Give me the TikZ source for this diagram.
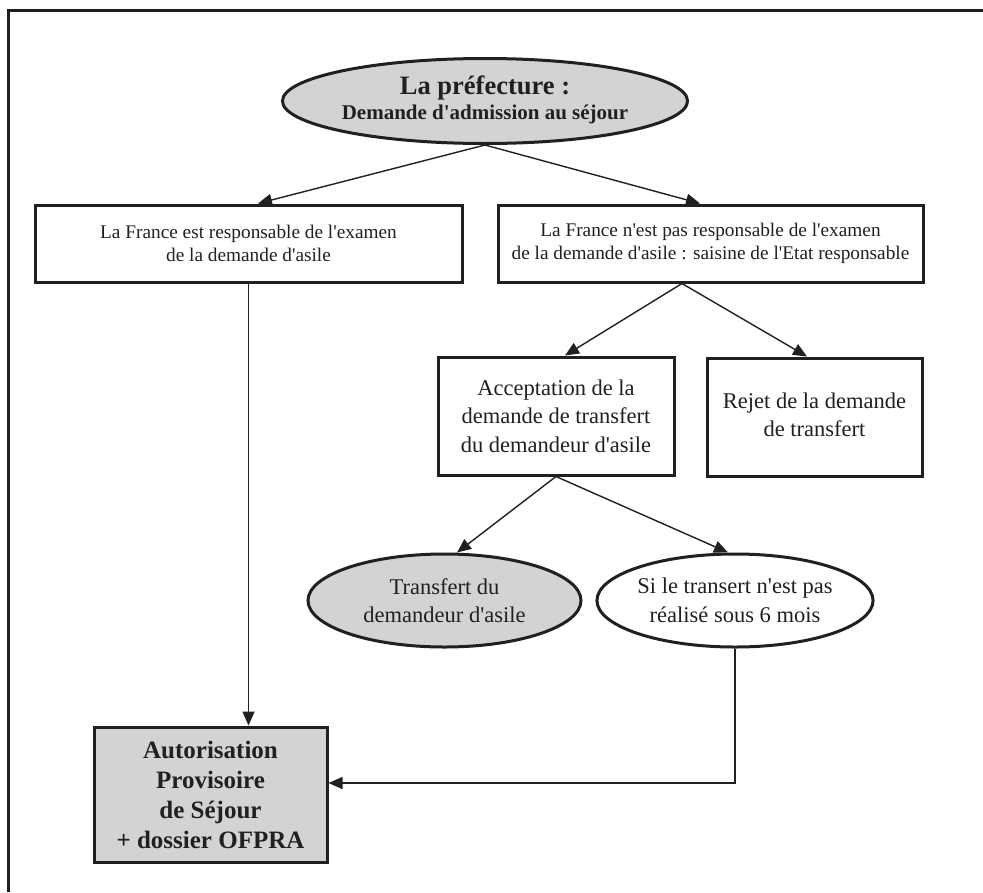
\documentclass[tikz,border=0pt]{standalone}
\usepackage{fontspec}
\setmainfont{Liberation Serif}
\usetikzlibrary{shapes.geometric,arrows.meta}
\definecolor{boxgray}{HTML}{D1D3D4}
\definecolor{ink}{HTML}{231F20}
\newcommand{\ap}{\textquotesingle}
\tikzset{
  boxnode/.style={draw=ink, line width=3pt, rectangle, inner sep=0pt, align=center, text=ink},
  ovalnode/.style={draw=ink, line width=3pt, ellipse, inner sep=0pt, align=center, text=ink},
  grayfill/.style={fill=boxgray},
  smalltxt/.style={font=\fontsize{19.3}{23}\selectfont},
  bigtxt/.style={font=\fontsize{22.5}{28.5}\selectfont},
  conn/.style={draw=ink, line width=1.4pt},
  arr/.style={conn, -{Triangle[length=14pt,width=12pt]}}
}
\begin{document}
\begin{tikzpicture}[x=1pt,y=-1pt]
\useasboundingbox (0,0) rectangle (983,892);
% frame
\draw[ink, line width=3pt] (8.5,892) -- (8.5,10.5) -- (983,10.5);
% nodes
\node[ovalnode, grayfill, minimum width=358pt, minimum height=85pt,
      font=\fontsize{21}{25}\selectfont\bfseries] (top) at (485,101)
  {\raisebox{10pt}{\begin{tabular}{@{}c@{}}
   {\fontsize{26.5}{26}\selectfont La préfecture :}\\
   Demande d\ap admission au séjour\end{tabular}}};
\node[boxnode, smalltxt, minimum width=427pt, minimum height=77pt] (b1) at (248.5,243.5)
  {La France est responsable de l\ap examen\\de la demande d\ap asile};
\node[boxnode, smalltxt, minimum width=425pt, minimum height=77pt] (b2) at (710.5,243.5)
  {La France n\ap est pas responsable de l\ap examen\\de la demande d\ap asile : saisine de l\ap Etat responsable};
\node[boxnode, bigtxt, minimum width=236pt, minimum height=118pt] (b3) at (556,416)
  {Acceptation de la\\demande de transfert\\du demandeur d\ap asile};
\node[boxnode, bigtxt, minimum width=215pt, minimum height=118pt] (b4) at (814.5,417)
  {\raisebox{5pt}{\begin{tabular}{@{}c@{}}Rejet de la demande\\de transfert\end{tabular}}};
\node[ovalnode, grayfill, bigtxt, minimum width=273pt, minimum height=93pt] (e2) at (444.5,600.5)
  {Transfert du\\demandeur d\ap asile};
\node[ovalnode, bigtxt, minimum width=266pt, minimum height=93pt] (e3) at (735,600.5)
  {Si le transert n\ap est pas\\réalisé sous 6 mois};
\node[boxnode, grayfill, minimum width=233pt, minimum height=135pt,
      font=\fontsize{25}{30}\selectfont\bfseries] (fin) at (210.5,794.5)
  {Autorisation\\Provisoire\\de Séjour\\+ dossier OFPRA};
% connectors
\draw[arr] (top.south) -- ([xshift=9.5pt]b1.north);
\draw[arr] (top.south) -- ([xshift=-10.5pt]b2.north);
\draw[arr] ([xshift=-28.5pt]b2.south) -- ([xshift=9pt]b3.north);
\draw[arr] ([xshift=-28.5pt]b2.south) -- ([xshift=-7.5pt]b4.north);
\draw[arr] (b3.south) -- ([xshift=12.5pt]e2.north);
\draw[arr] (b3.south) -- ([xshift=-7pt]e3.north);
\draw[arr] (b1.south) -- (b1.south |- fin.north);
\draw[arr] (e3.south) |- ([yshift=11.5pt]fin.east);
\end{tikzpicture}
\end{document}
